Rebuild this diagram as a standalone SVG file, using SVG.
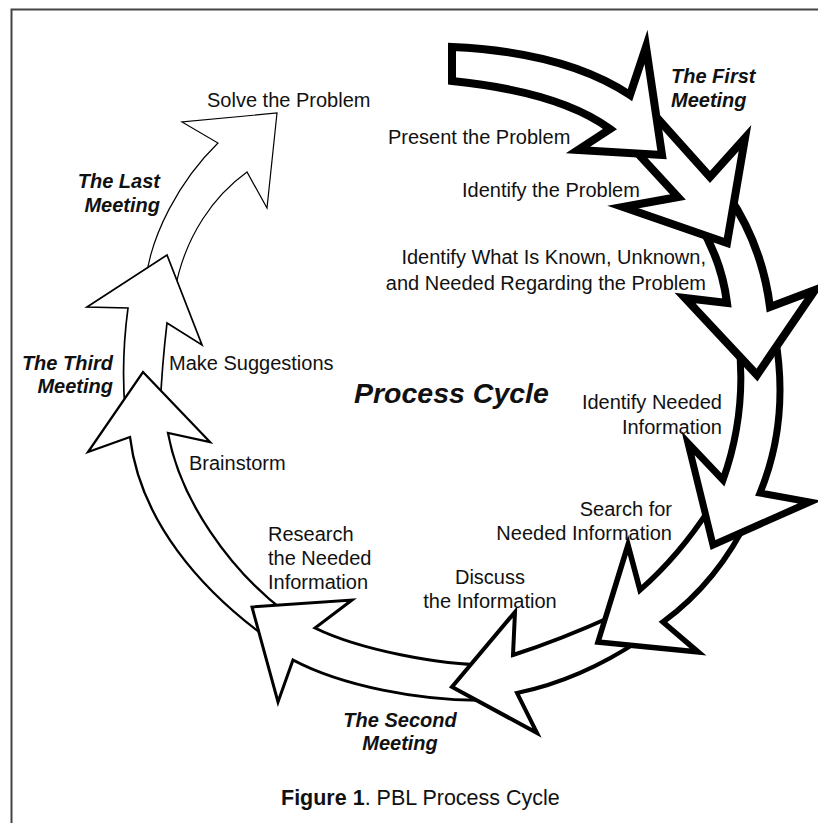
<svg xmlns="http://www.w3.org/2000/svg" width="818" height="823" viewBox="0 0 818 823">
<style>
.arr{fill:#fff;stroke:#000;stroke-linejoin:miter;stroke-miterlimit:10}
.t{font-family:"Liberation Sans",Arial,sans-serif;font-size:20px;fill:#111}
.m{font-family:"Liberation Sans",Arial,sans-serif;font-size:20px;font-weight:bold;font-style:italic;fill:#111}
.e{text-anchor:end}
.c{text-anchor:middle}
</style>
<rect x="0" y="0" width="818" height="823" fill="#fff"/>
<rect x="11.5" y="9.5" width="830" height="840" fill="none" stroke="#444" stroke-width="2"/>
<g id="connectors">
  <path id="arrow10" class="arr" stroke-width="1.2" d="M145,285 C150,235 180,180 218,143 L182,122 L277,113 L267,208 L247,172 C215,195 185,235 175,290 Z"/>
  <path id="arrow9" class="arr" stroke-width="1.7" d="M125,410 Q121,360 128,308 L87,307 L167,255 L202,345 L167,323 Q162,365 160,410 Z"/>
  <path id="arrow8" class="arr" stroke-width="2.3" d="M270,640 C200,590 140,520 130,437 L88,452 L143,372 L210,442 L168,433 C180,500 230,570 285,612 Z"/>
  <path id="arrow7" class="arr" stroke-width="3" d="M490,700 C420,702 340,685 293,660 L278,702 L252,607 L352,600 L315,628 C360,650 440,665 490,665 Z"/>
  <path id="arrow6" class="arr" stroke-width="4" d="M640,640 Q580,680 517,693 L537,733 L452,687 L515,612 L513,655 Q560,640 615,615 Z"/>
  <path id="arrow5" class="arr" stroke-width="5.5" d="M750,515 Q718,582 663,622 L698,652 L598,642 L628,545 L640,590 Q680,555 712,505 Z"/>
  <path id="arrow4" class="arr" stroke-width="7" d="M775,335 Q790,420 760,493 L810,502 L713,545 L688,443 L723,480 Q748,410 738,335 Z"/>
  <path id="arrow3" class="arr" stroke-width="8" d="M728,195 Q762,245 770,307 L815,290 L757,375 L685,298 L727,303 Q722,262 700,225 Z"/>
  <path id="arrow2" class="arr" stroke-width="8" d="M650,110 L710,177 L745,138 L727,243 L623,207 L678,197 L630,145 Z"/>
  <path id="arrow1" class="arr" stroke-width="8" d="M452,47 Q565,52 630,95 L646,47 L662,155 L578,150 L610,129 Q560,92 452,81 Z"/>
</g>
<g id="first-meeting"><text class="m" x="671" y="83">The First</text><text class="m" x="671" y="107">Meeting</text></g>
<g id="present"><text class="t" x="388" y="144">Present the Problem</text></g>
<g id="identify"><text class="t" x="462" y="197">Identify the Problem</text></g>
<g id="known"><text class="t e" x="706" y="264">Identify What Is Known, Unknown,</text><text class="t e" x="706" y="290">and Needed Regarding the Problem</text></g>
<g id="process-cycle"><text x="354" y="403" font-family="Liberation Sans, Arial, sans-serif" font-size="28.5" font-weight="bold" font-style="italic" fill="#111">Process Cycle</text></g>
<g id="identify-needed"><text class="t e" x="722" y="409">Identify Needed</text><text class="t e" x="722" y="434">Information</text></g>
<g id="search"><text class="t e" x="672" y="516">Search for</text><text class="t e" x="672" y="540">Needed Information</text></g>
<g id="discuss"><text class="t c" x="490" y="584">Discuss</text><text class="t c" x="490" y="608">the Information</text></g>
<g id="second-meeting"><text class="m c" x="400" y="727">The Second</text><text class="m c" x="400" y="750">Meeting</text></g>
<g id="research"><text class="t" x="268" y="541">Research</text><text class="t" x="268" y="565">the Needed</text><text class="t" x="268" y="589">Information</text></g>
<g id="brainstorm"><text class="t" x="189" y="470">Brainstorm</text></g>
<g id="third-meeting"><text class="m e" x="113" y="370">The Third</text><text class="m e" x="113" y="393">Meeting</text></g>
<g id="suggestions"><text class="t" x="169" y="370">Make Suggestions</text></g>
<g id="last-meeting"><text class="m e" x="160" y="188">The Last</text><text class="m e" x="160" y="212">Meeting</text></g>
<g id="solve"><text class="t" x="207" y="107">Solve the Problem</text></g>
<g id="caption"><text x="281" y="805" font-family="Liberation Sans, Arial, sans-serif" font-size="21.5" fill="#111"><tspan font-weight="bold">Figure 1</tspan>. PBL Process Cycle</text></g>
</svg>
